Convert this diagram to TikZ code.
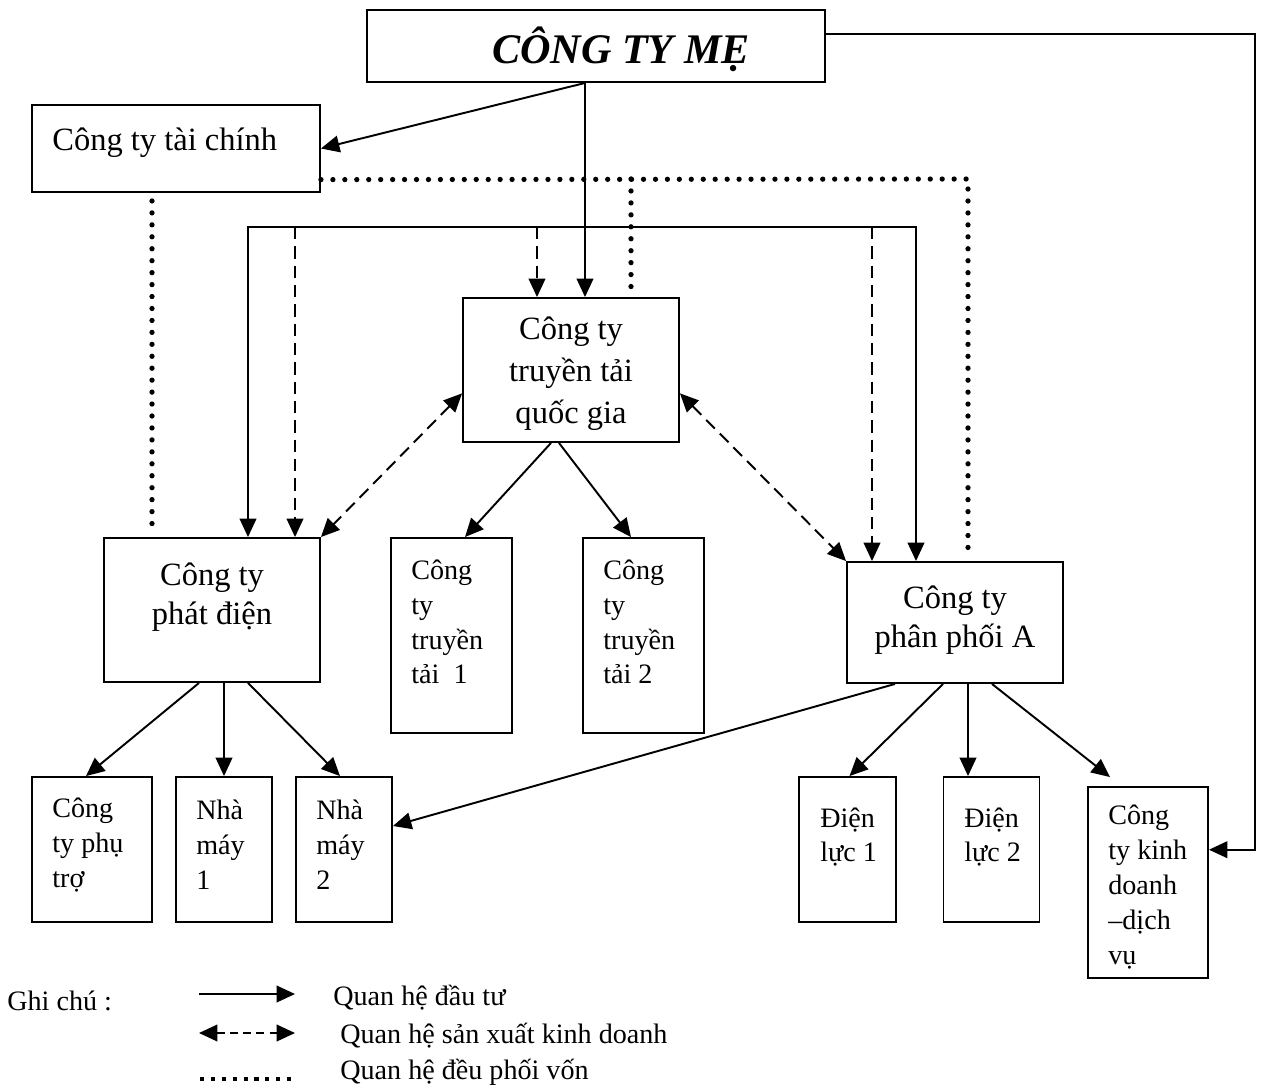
\documentclass[tikz,border=0pt]{standalone}
\usepackage{fontspec}
\setmainfont{Liberation Serif}
\usetikzlibrary{arrows.meta,calc}
\tikzset{
  box/.style={draw,line width=1.1pt,inner sep=0pt},
  txt/.style={inner sep=0pt,align=center,font=\fontsize{18.5}{22.5}\selectfont},
  lefttxt/.style={anchor=west,inner sep=0pt,align=left,font=\fontsize{16}{19.8}\selectfont},
  link/.style={line width=1.1pt,-{Triangle[length=10.5pt,width=9.5pt]}},
  twoway/.style={line width=1.1pt,{Triangle[length=10.5pt,width=9.5pt]}-{Triangle[length=10.5pt,width=9.5pt]}},
  trade/.style={dash pattern=on 7pt off 4pt},
  fund/.style={line width=3pt,line cap=round,dash pattern=on 0pt off 6.8pt},
  note/.style={anchor=west,inner sep=0pt,font=\fontsize{16}{19}\selectfont}
}
\begin{document}
\begin{tikzpicture}[x=0.02cm,y=-0.02cm]
    \useasboundingbox (0,0) rectangle (1264,1088);
    % cac cong ty
    \node[box,minimum width=9.16cm,minimum height=1.44cm] (me) at (596,46) {};
    \node[box,minimum width=5.76cm,minimum height=1.74cm] (taichinh) at (176,148.5) {};
    \node[box,minimum width=4.32cm,minimum height=2.88cm] (truyentai) at (571,370) {};
    \node[box,minimum width=4.32cm,minimum height=2.88cm] (phatdien) at (212,610) {};
    \node[box,minimum width=4.32cm,minimum height=2.42cm] (phanphoi) at (955,622.5) {};
    \node[box,minimum width=2.42cm,minimum height=3.9cm] (tt1) at (451.5,635.5) {};
    \node[box,minimum width=2.42cm,minimum height=3.9cm] (tt2) at (643.5,635.5) {};
    \node[box,minimum width=2.4cm,minimum height=2.9cm] (phutro) at (92,849.5) {};
    \node[box,minimum width=1.92cm,minimum height=2.9cm] (nm1) at (224,849.5) {};
    \node[box,minimum width=1.92cm,minimum height=2.9cm] (nm2) at (344,849.5) {};
    \node[box,minimum width=1.94cm,minimum height=2.9cm] (dl1) at (847.5,849.5) {};
    \node[box,minimum width=1.92cm,minimum height=2.9cm] (dl2) at (991.5,849.5) {};
    \node[box,minimum width=2.4cm,minimum height=3.82cm] (kd) at (1148,882.5) {};
    % chu trong o
    \node[txt,font=\fontsize{24}{28}\selectfont\bfseries\itshape] (me-t) at (621,49) {CÔNG TY MẸ};
    \node[txt,anchor=west] (taichinh-t) at (52,143) {Công ty tài chính};
    \node[txt,font=\fontsize{18.5}{23.8}\selectfont] (truyentai-t) at (571,374) {Công ty\\truyền tải\\quốc gia};
    \node[txt] (phatdien-t) at (212,597) {Công ty\\phát điện};
    \node[txt] (phanphoi-t) at (955,620) {Công ty\\phân phối A};
    \node[lefttxt] (tt1-t) at (411,622) {Công\\ty\\truyền\\tải~~1};
    \node[lefttxt] (tt2-t) at (603,622) {Công\\ty\\truyền\\tải~2};
    \node[lefttxt] (phutro-t) at (52,845) {Công\\ty~phụ\\trợ};
    \node[lefttxt] (nm1-t) at (196,845) {Nhà\\máy\\1};
    \node[lefttxt] (nm2-t) at (316,845) {Nhà\\máy\\2};
    \node[lefttxt] (dl1-t) at (820,837) {Điện\\lực~1};
    \node[lefttxt] (dl2-t) at (964,837) {Điện\\lực~2};
    \node[lefttxt] (kd-t) at (1108,887) {Công\\ty~kinh\\doanh\\–dịch\\vụ};
    % duong phu
    \coordinate (spine) at (585,227);
    \coordinate (busL) at (248,227);
    \coordinate (busR) at (916,227);
    \coordinate (rt) at (1255,34);
    \coordinate (kdin) at ($(kd.north east)!0.33!(kd.south east)$);
    \coordinate (fundL) at (152,0);
    \coordinate (fundM) at (631,179);
    \coordinate (fundR) at (968,179);
    % quan he dau tu
    \draw[link] (spine |- me.south) -- (taichinh.east);
    \draw[link] (spine |- me.south) -- (spine |- truyentai.north);
    \draw[twoway] (busL |- phatdien.north) -- (busL) -- (busR) -- (busR |- phanphoi.north);
    \draw[link] (me.east |- rt) -- (rt) -- (rt |- kdin) -- (kdin);
    \draw[link] ($(truyentai.south)+(-20,0)$) -- ($(tt1.north)+(13.5,0)$);
    \draw[link] ($(truyentai.south)+(-12,0)$) -- ($(tt2.north)+(-12.5,0)$);
    \draw[link] ($(phatdien.south)+(-13,0)$) -- ($(phutro.north)+(-6,0)$);
    \draw[link] (nm1.north |- phatdien.south) -- (nm1.north);
    \draw[link] ($(phatdien.south)+(36,0)$) -- ($(nm2.north)+(-4,0)$);
    \draw[link] ($(phanphoi.south)+(-60,0)$) -- ($(nm2.north east)!0.34!(nm2.south east)$);
    \draw[link] ($(phanphoi.south)+(-12,0)$) -- ($(dl1.north)+(2,0)$);
    \draw[link] ($(phanphoi.south)+(13,0)$) coordinate (pp2) -- (pp2 |- dl2.north);
    \draw[link] ($(phanphoi.south)+(37,0)$) -- ($(kd.north)+(-38,-9)$);
    % quan he san xuat kinh doanh
    \foreach \x/\target in {295/phatdien,537/truyentai,872/phanphoi}
        {
            \coordinate (top) at (\x,227);
            \draw[link,trade] (top) -- (top |- \target.north);
        }
    \draw[twoway,trade] ($(truyentai.north west)!0.66!(truyentai.south west)$) -- (phatdien.north east);
    \draw[twoway,trade] ($(truyentai.north east)!0.66!(truyentai.south east)$) -- (phanphoi.north west);
    % quan he dieu phoi von
    \draw[fund] ($(taichinh.north east)!0.85!(taichinh.south east)$) -- (fundR) -- ($(fundR |- phanphoi.north)+(0,-8)$);
    \draw[fund] (fundM) -- ($(fundM |- truyentai.north)+(0,-8)$);
    \draw[fund] ($(fundL |- taichinh.south)+(0,8)$) -- ($(fundL |- phatdien.north)+(0,-8)$);
    % ghi chu
    \node[note] (ghichu) at (7,1001) {Ghi chú :};
    \node[note] (qh1) at (333,998) {Quan hệ đầu tư};
    \node[note] (qh2) at (340,1036) {Quan hệ sản xuất kinh doanh};
    \node[note] (qh3) at (340,1072) {Quan hệ đều phối vốn};
    \coordinate (l1a) at (199,994);
    \coordinate (l1b) at (295,994);
    \coordinate (l2a) at (199,1033);
    \coordinate (l2b) at (295,1033);
    \coordinate (l3a) at (200,1079);
    \coordinate (l3b) at (292,1079);
    \draw[link] (l1a) -- (l1b);
    \draw[twoway,dash pattern=on 4.5pt off 3pt] (l2a) -- (l2b);
    \draw[line width=2.3pt,dash pattern=on 2.3pt off 3.9pt] (l3a) -- (l3b);
\end{tikzpicture}
\end{document}
